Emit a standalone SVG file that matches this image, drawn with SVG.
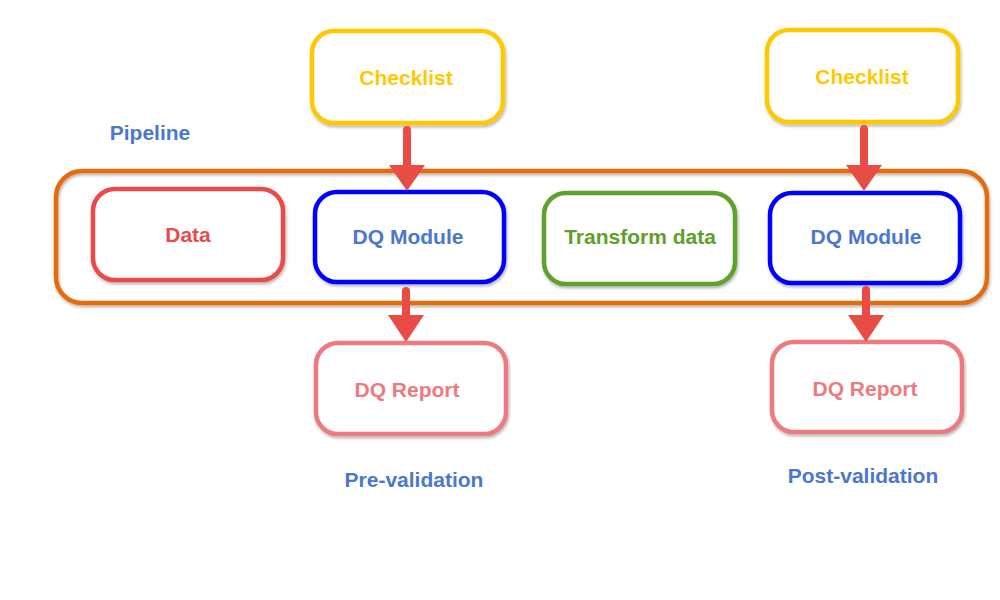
<svg xmlns="http://www.w3.org/2000/svg" width="1000" height="600" viewBox="0 0 1000 600">
<defs>
<filter id="sh" x="-10%" y="-10%" width="120%" height="130%">
<feDropShadow dx="1" dy="2" stdDeviation="1.5" flood-color="#000" flood-opacity="0.3"/>
</filter>
</defs>
<style>
.box{fill:#fff;stroke-width:4.5;filter:url(#sh)}
.t{font-family:"Liberation Sans",Arial,sans-serif;font-weight:bold;font-size:21px;text-anchor:middle}
.arr{fill:#e84c44}
</style>
<rect width="1000" height="600" fill="#fff"/>
<g id="pipeline">
<rect x="56" y="171" width="931" height="132" rx="26" fill="none" stroke="#e46c0a" stroke-width="4.5" filter="url(#sh)"/>
<text class="t" x="150" y="140" fill="#4a78cc">Pipeline</text>
</g>
<g id="checklist1">
<rect class="box" x="312" y="31" width="191" height="92" rx="22" stroke="#ffc800"/>
<text class="t" x="406" y="85" fill="#ffc800">Checklist</text>
</g>
<g id="checklist2">
<rect class="box" x="767" y="30" width="191" height="92" rx="22" stroke="#ffc800"/>
<text class="t" x="862" y="84" fill="#ffc800">Checklist</text>
</g>
<g id="data">
<rect class="box" x="93" y="189" width="190" height="91" rx="22" stroke="#e84c4a"/>
<text class="t" x="188" y="242" fill="#e84c4a">Data</text>
</g>
<g id="dq1">
<rect class="box" x="315" y="192" width="189" height="90" rx="22" stroke="#0000ff"/>
<text class="t" x="408" y="244" fill="#4a78cc">DQ Module</text>
</g>
<g id="transform">
<rect class="box" x="544" y="193" width="191" height="91" rx="22" stroke="#5ea12a"/>
<text class="t" x="640" y="244" fill="#5ea12a">Transform data</text>
</g>
<g id="dq2">
<rect class="box" x="770" y="193" width="190" height="90" rx="22" stroke="#0000ff"/>
<text class="t" x="866" y="244" fill="#4a78cc">DQ Module</text>
</g>
<g id="report1">
<rect class="box" x="316" y="343" width="190" height="91" rx="22" stroke="#ec7a7e"/>
<text class="t" x="407" y="397" fill="#ec7a7e">DQ Report</text>
</g>
<g id="report2">
<rect class="box" x="772" y="342" width="190" height="90" rx="22" stroke="#ec7a7e"/>
<text class="t" x="865" y="396" fill="#ec7a7e">DQ Report</text>
</g>
<g id="labels">
<text class="t" x="414" y="487" fill="#4a78cc">Pre-validation</text>
<text class="t" x="863" y="483" fill="#4a78cc">Post-validation</text>
</g>
<g id="connectors">
<path class="arr" d="M403,130 a4,4 0 0 1 8,0 v35 h14 l-18,26 l-18,-26 h14 z"/>
<path class="arr" d="M860,129 a4,4 0 0 1 8,0 v36 h14 l-18,26 l-18,-26 h14 z"/>
<path class="arr" d="M402,291 a4,4 0 0 1 8,0 v24 h14 l-18,27 l-18,-27 h14 z"/>
<path class="arr" d="M862,290 a4,4 0 0 1 8,0 v25 h14 l-18,27 l-18,-27 h14 z"/>
</g>
</svg>
